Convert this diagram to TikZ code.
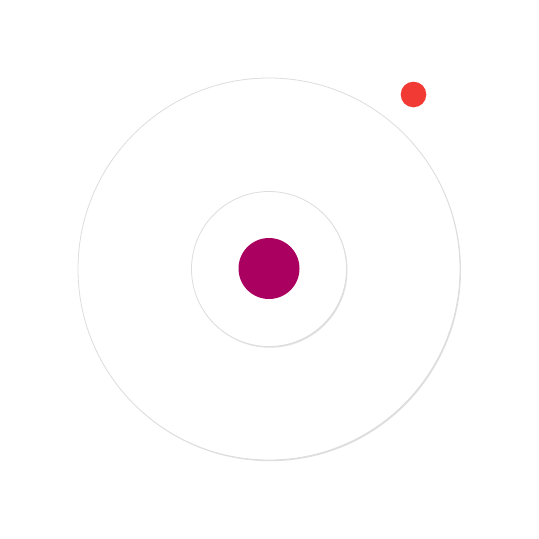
\documentclass[tikz,border=0pt]{standalone}
\usetikzlibrary{shadows}
\definecolor{dotmag}{HTML}{AA0060}
\definecolor{dotred}{HTML}{F23A35}
\definecolor{ringgray}{HTML}{DDDDDD}
\begin{document}
\begin{tikzpicture}[x=1pt,y=-1pt,
  ring/.style={circle,draw=ringgray,line width=0.8pt,fill=white,inner sep=0pt,
    drop shadow={shadow xshift=1pt,shadow yshift=-1.2pt,opacity=0.25}},
  dot/.style={circle,inner sep=0pt,draw=none}]
\useasboundingbox[fill=white] (0,0) rectangle (539,539);
\node[ring,minimum size=382pt] (outer) at (269,269) {};
\node[ring,minimum size=155pt] (inner) at (269,269) {};
\node[dot,fill=dotmag,minimum size=61pt] (core) at (269,268.5) {};
\node[dot,fill=dotred,minimum size=25.6pt] (sat) at (413.5,94.5) {};
\end{tikzpicture}
\end{document}
